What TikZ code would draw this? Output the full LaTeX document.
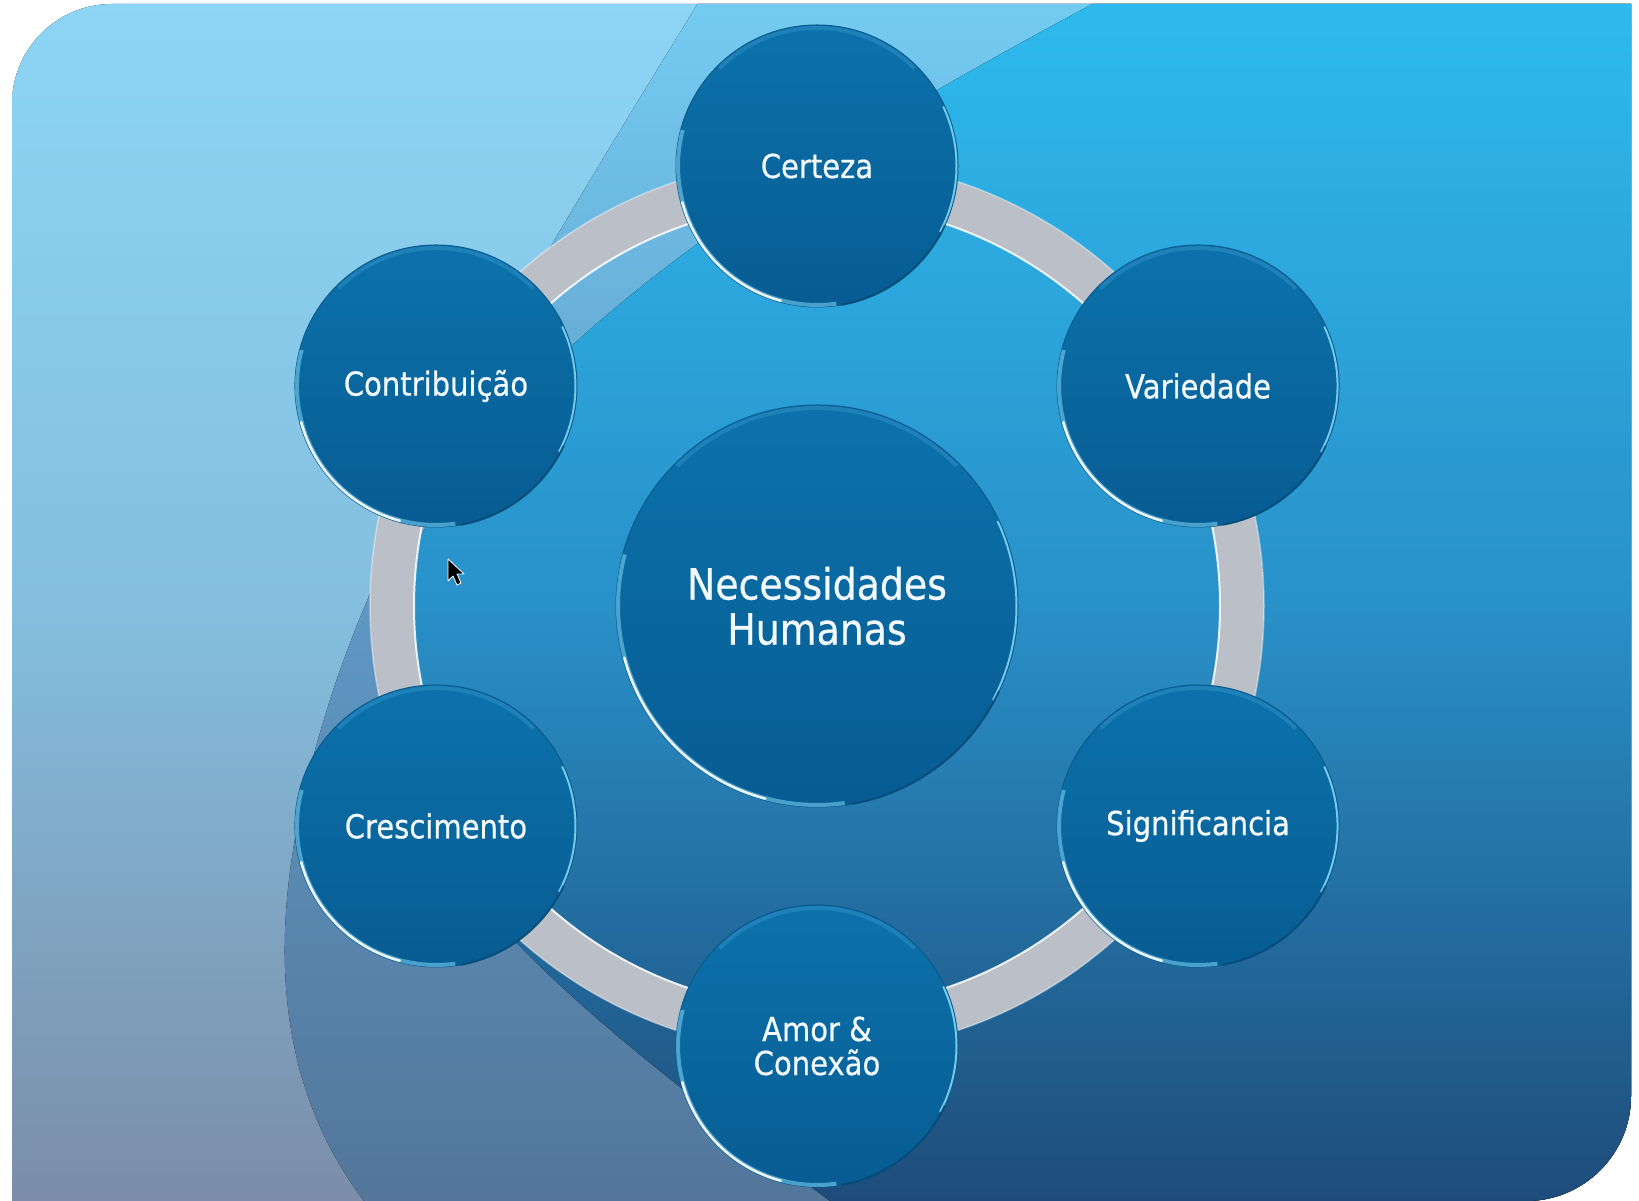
\documentclass[tikz,border=0pt]{standalone}
\usepackage{fontspec}
\setmainfont{DejaVu Sans}[FakeStretch=0.88, FakeBold=0.6]
\definecolor{bgtop}{HTML}{8DD5F5}
\definecolor{bgmid}{HTML}{84BFDF}
\definecolor{bgbot}{HTML}{7B8DA8}
\definecolor{atop}{HTML}{74CCF2}
\definecolor{amid}{HTML}{5F98C4}
\definecolor{abot}{HTML}{53769A}
\definecolor{btop}{HTML}{2EBAEE}
\definecolor{bmid}{HTML}{2991C9}
\definecolor{bbot}{HTML}{1E4C7A}
\definecolor{ringgray}{HTML}{BBBFC7}
\definecolor{cirtop}{HTML}{0C72AB}
\definecolor{cirbot}{HTML}{075C92}
\definecolor{cirline}{HTML}{0A5A8C}
\definecolor{rimsoft}{HTML}{7FD9FA}
\definecolor{rimright}{HTML}{8FE3FF}
\definecolor{rimtop}{HTML}{4AA8DC}
\definecolor{rimdark}{HTML}{04456F}
\definecolor{txt}{HTML}{F2FAFF}
\tikzset{
  bubble/.style={circle, inner sep=0pt, minimum size=282pt, top color=cirtop, bottom color=cirbot,
    draw=cirline, line width=1pt, text=txt, font=\fontsize{33}{34}\selectfont, align=center},
  hubble/.style={bubble, minimum size=402pt, font=\fontsize{43}{45}\selectfont},
  ringband/.style={line width=44pt, color=ringgray}
}
\newcommand\bubblerim[2]{%
  \draw[rimtop, line width=4pt, opacity=.3] ([shift={(45:#2-3)}]#1.center) arc[start angle=45,end angle=135,radius=#2-3];
  \draw[rimsoft, line width=4pt, opacity=.55] ([shift={(165:#2-2)}]#1.center) arc[start angle=165,end angle=278,radius=#2-2];
  \draw[white, line width=2.5pt, opacity=.9, line cap=round] ([shift={(195:#2-1.5)}]#1.center) arc[start angle=195,end angle=255,radius=#2-1.5];
  \draw[rimright, line width=2pt, opacity=.8, line cap=round] ([shift={(-28:#2-1.5)}]#1.center) arc[start angle=-28,end angle=25,radius=#2-1.5];
  \draw[rimdark, line width=2pt, opacity=.7] ([shift={(280:#2)}]#1.center) arc[start angle=280,end angle=335,radius=#2];
}
\begin{document}
\begin{tikzpicture}[x=1pt,y=1pt]
\useasboundingbox (0,0) rectangle (1639,1201);
\fill[white] (0,0) rectangle (1639,1201);
\begin{scope}
  \clip (12,0) -- (12,1097) arc[start angle=180,end angle=90,radius=100] -- (1631,1197)
    -- (1631,105) arc[start angle=0,end angle=-90,radius=105] -- cycle;
  \fill[top color=bgtop, bottom color=bgbot, middle color=bgmid] (0,0) rectangle (1639,1201);
  \fill[top color=atop, bottom color=abot, middle color=amid]
    (700,1201) .. controls (590,1021) and (400,721) .. (330,501)
    .. controls (278,338) and (250,151) .. (364,0) -- (1639,0) -- (1639,1201) -- cycle;
  \fill[top color=btop, bottom color=bbot, middle color=bmid]
    (1100,1201) .. controls (820,1051) and (420,821) .. (390,561)
    .. controls (355,361) and (560,201) .. (830,0) -- (1639,0) -- (1639,1201) -- cycle;
\end{scope}

\coordinate (c0) at (817,595);
\draw[ringband] (c0) circle[radius=425];
\draw[white, line width=2pt, opacity=.85] (c0) circle[radius=403];
\draw[white, line width=1.5pt, opacity=.4] (c0) circle[radius=447];

\node[hubble] (hub) at (c0) {Necessidades\\Humanas};
\node[bubble] (cert) at ([shift={(90:440)}]c0) {Certeza};
\node[bubble] (vari) at ([shift={(30:440)}]c0) {Variedade};
\node[bubble] (sign) at ([shift={(-30:440)}]c0) {Significancia};
\node[bubble] (amor) at ([shift={(-90:440)}]c0) {Amor \&\\Conexão};
\node[bubble] (cres) at ([shift={(-150:440)}]c0) {Crescimento};
\node[bubble] (cont) at ([shift={(150:440)}]c0) {Contribuição};

\bubblerim{hub}{201}
\bubblerim{cert}{141}
\bubblerim{vari}{141}
\bubblerim{sign}{141}
\bubblerim{amor}{141}
\bubblerim{cres}{141}
\bubblerim{cont}{141}

% mouse pointer
\fill[black, draw=white, line width=.8pt, line join=round]
  (448,642) -- (448,620) -- (453,625) -- (457,616) -- (461,618) -- (457,627) -- (464,627) -- cycle;
\end{tikzpicture}
\end{document}
